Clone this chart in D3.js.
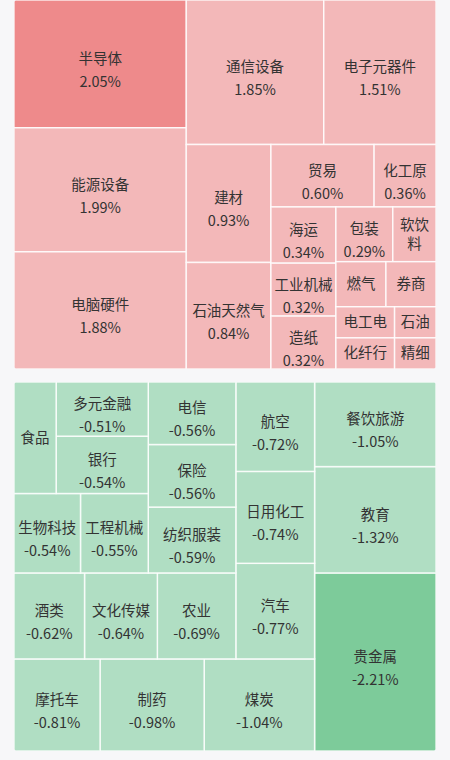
<!DOCTYPE html>
<html><head><meta charset="utf-8">
<script src="https://cdn.jsdelivr.net/npm/d3@7"></script>
<style>html,body{margin:0;padding:0;background:#f7f7f9;} svg{display:block}</style>
</head><body><svg id="chart" width="450" height="760"></svg>
<script>
// Sectors that rose (%), tile area = |change|
const upNames = ["半导体","能源设备","电脑硬件","通信设备","电子元器件","建材","石油天然气","贸易","化工原","海运","工业机械","造纸","包装","软饮料","燃气","券商","电工电","化纤行","石油","精细"];
const upValues = [2.05,1.99,1.88,1.85,1.51,0.93,0.84,0.60,0.36,0.34,0.32,0.32,0.29,0.22,0.21,0.21,0.17,0.17,0.12,0.12];
// Sectors that fell (%)
const downNames = ["贵金属","教育","餐饮旅游","煤炭","制药","摩托车","汽车","日用化工","航空","农业","文化传媒","酒类","纺织服装","保险","电信","工程机械","生物科技","银行","多元金融","食品"];
const downValues = [-2.21,-1.32,-1.05,-1.04,-0.98,-0.81,-0.77,-0.74,-0.72,-0.69,-0.64,-0.62,-0.59,-0.56,-0.56,-0.55,-0.54,-0.54,-0.51,-0.48];

const W = 450, H = 760;
const FONT = "14.5px 'Noto Sans CJK SC', 'Noto Sans', sans-serif";
const svg = d3.select("#chart");
svg.append("rect").attr("width", W).attr("height", H).attr("fill", "#f7f7f9");

const colorUp = d3.scaleThreshold().domain([2]).range(["#f3b8b9", "#ee8a8b"]);
const colorDown = d3.scaleThreshold().domain([2]).range(["#b0dec3", "#7dcb9a"]);
const fmt = d3.formatLocale({decimal: ".", thousands: ",", grouping: [3], currency: ["", ""], minus: "-"}).format(".2f");

const ctx = document.createElement("canvas").getContext("2d");
ctx.font = FONT;
const measure = t => ctx.measureText(t).width;

function wrap(text, avail) {
  const lines = [];
  let cur = "";
  for (const ch of text) {
    if (cur && measure(cur + ch) > avail) { lines.push(cur); cur = ch; }
    else cur += ch;
  }
  if (cur) lines.push(cur);
  return lines;
}

function drawGroup(names, values, box, mirror, color, id) {
  const w = box.x1 - box.x0, h = box.y1 - box.y0;
  const root = d3.hierarchy({children: names.map((n, i) => ({name: n, value: values[i]}))})
    .sum(d => d.children ? 0 : Math.abs(d.value));
  d3.treemap().tile(d3.treemapSquarify.ratio(1)).size([w, h]).round(false)(root);

  svg.append("clipPath").attr("id", id)
    .append("rect").attr("x", box.x0).attr("y", box.y0).attr("width", w).attr("height", h).attr("rx", 4);
  const g = svg.append("g").attr("clip-path", `url(#${id})`);

  root.leaves().forEach(leaf => {
    let x0 = leaf.x0, x1 = leaf.x1, y0 = leaf.y0, y1 = leaf.y1;
    if (mirror) { [x0, x1] = [w - x1, w - x0]; [y0, y1] = [h - y1, h - y0]; }
    x0 += box.x0; x1 += box.x0; y0 += box.y0; y1 += box.y0;
    const v = leaf.data.value;
    g.append("rect")
      .attr("x", x0).attr("y", y0).attr("width", x1 - x0).attr("height", y1 - y0)
      .attr("fill", color(Math.abs(v)))
      .attr("stroke", "rgba(255,255,255,0.8)").attr("stroke-width", 1.5);

    const tw = x1 - x0, th = y1 - y0;
    const cx = (x0 + x1) / 2, cy = (y0 + y1) / 2;
    const avail = tw - 6;
    let lines = wrap(leaf.data.name, avail);
    const valText = fmt(v) + "%";
    const t = g.append("text").attr("text-anchor", "middle")
      .style("font", FONT).attr("fill", "#333");
    if (lines.length === 1 && th >= 50 && measure(valText) <= avail) {
      t.append("tspan").attr("x", cx).attr("y", cy).text(lines[0]);
      t.append("tspan").attr("x", cx).attr("y", cy + 23).text(valText);
    } else {
      const lh = 19;
      const maxLines = Math.max(1, Math.floor((th - 4) / lh));
      lines = lines.slice(0, maxLines);
      const start = cy - (lines.length - 1) * lh / 2 + 5;
      lines.forEach((l, i) => t.append("tspan").attr("x", cx).attr("y", start + i * lh).text(l));
    }
  });
}

drawGroup(upNames, upValues, {x0: 14, x1: 436, y0: 0, y1: 369}, false, colorUp, "clipUp");
drawGroup(downNames, downValues, {x0: 14, x1: 436, y0: 382, y1: 751}, true, colorDown, "clipDown");
</script>
</body></html>
